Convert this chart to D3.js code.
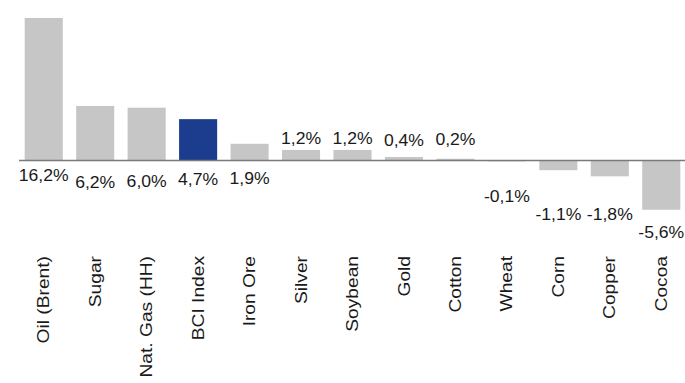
<!DOCTYPE html>
<html>
<head>
<meta charset="utf-8">
<script src="https://cdnjs.cloudflare.com/ajax/libs/d3/7.8.5/d3.min.js"></script>
<style>
  body { margin: 0; background: #fff; }
  text { font-family: "Liberation Sans", Arial, sans-serif; fill: #1a1a1a; }
</style>
</head>
<body>
<div id="chart"></div>
<script>
        // data
        var categories = ["Oil (Brent)", "Sugar", "Nat. Gas (HH)", "BCI Index", "Iron Ore", "Silver",
                          "Soybean", "Gold", "Cotton", "Wheat", "Corn", "Copper", "Cocoa"];
        var values = [16.2, 6.2, 6.0, 4.7, 1.9, 1.2, 1.2, 0.4, 0.2, -0.1, -1.1, -1.8, -5.6];
        var highlight = "BCI Index";

        // where each value label sits, offset in px from the zero line
        var labelDy = [20, 27, 26, 24, 23, -17, -17, -15, -16, 41, 59, 59, 77];

        var fullWidth = 685;
        var fullHeight = 383;

        var svg = d3.select("#chart")
                    .append("svg")
                    .attr("width", fullWidth)
                    .attr("height", fullHeight);

        var data = categories.map(function(c, i) {
            return {name: c, value: values[i], dy: labelDy[i]};
        });

        var xScale = d3.scaleBand()
                       .domain(categories)
                       .range([18, 687])
                       .paddingInner(0.26)
                       .paddingOuter(0.13);

        var pxPerPct = 8.8;
        var zeroY = 160.5;
        var yScale = d3.scaleLinear()
                       .domain([-5.6, 16.2])
                       .range([zeroY + 5.6 * pxPerPct, zeroY - 16.2 * pxPerPct]);

        // comma decimals, plain hyphen for the minus
        var fmt = function(v) { return v.toFixed(1).replace(".", ","); };

        svg.append("g")
            .attr("class", "bars")
            .selectAll("rect")
            .data(data)
            .enter()
            .append("rect")
            .attr("x", function(d) { return xScale(d.name); })
            .attr("y", function(d) { return yScale(Math.max(0, d.value)); })
            .attr("width", xScale.bandwidth())
            .attr("height", function(d) { return Math.abs(yScale(d.value) - yScale(0)); })
            .attr("fill", function(d) { return d.name == highlight ? "#1c3d8e" : "#c6c6c6"; });

        // zero line
        svg.append("line")
            .attr("x1", 19)
            .attr("x2", fullWidth)
            .attr("y1", yScale(0))
            .attr("y2", yScale(0))
            .attr("stroke", "#7a7a7a")
            .attr("stroke-width", 1.5);

        // value labels
        svg.append("g")
            .selectAll("text")
            .data(data)
            .enter()
            .append("text")
            .attr("transform", function(d) {
                return "translate(" + (xScale(d.name) + xScale.bandwidth() / 2) + "," + (yScale(0) + d.dy) + ") scale(1.1,1)";
            })
            .style("text-anchor", "middle")
            .style("font-size", "16px")
            .text(function(d) { return fmt(d.value) + "%"; });

        // category labels, rotated
        var xAxis = d3.axisBottom(xScale).tickSize(0).tickPadding(0);
        var axis = svg.append("g")
            .attr("transform", "translate(0,256)")
            .call(xAxis);
        axis.select(".domain").remove();
        axis.selectAll("text")
            .attr("y", 0)
            .attr("x", 0)
            .attr("dy", "0.35em")
            .attr("transform", "rotate(-90) scale(1.2,1)")
            .style("text-anchor", "end")
            .style("font-size", "16px")
            .style("font-family", "Liberation Sans, Arial, sans-serif")
            .attr("fill", "#1a1a1a");
</script>
</body>
</html>
